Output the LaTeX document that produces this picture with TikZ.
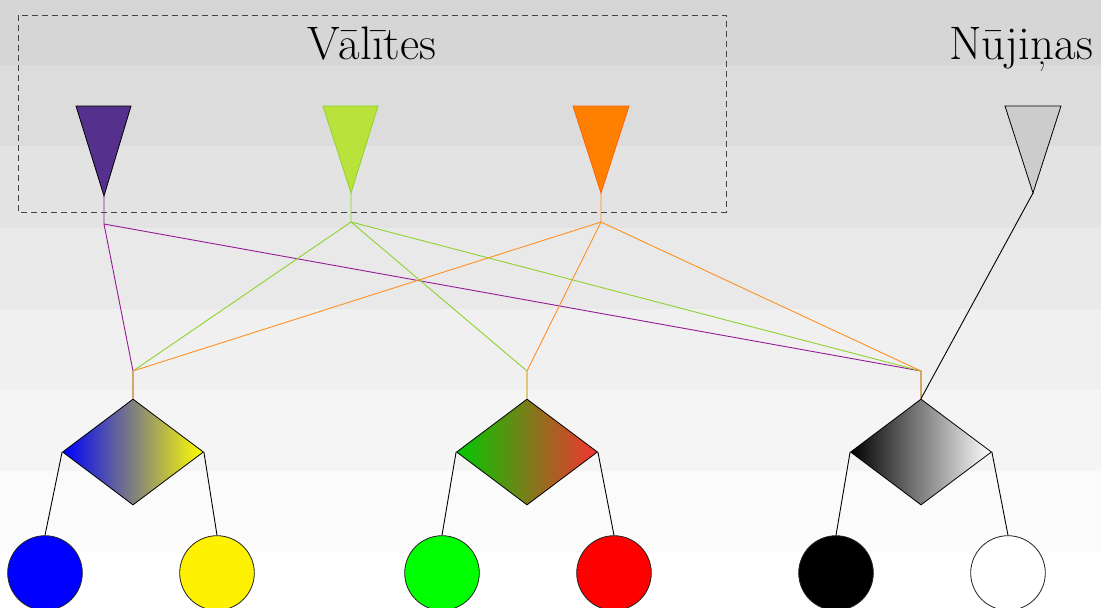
\documentclass[tikz,border=0pt]{standalone}
\usepackage{fontspec}
\usetikzlibrary{shapes.geometric}
\definecolor{bgA}{HTML}{D6D6D6}
\definecolor{bgB}{HTML}{DCDCDC}
\definecolor{bgC}{HTML}{E3E3E3}
\definecolor{bgD}{HTML}{E9E9E9}
\definecolor{bgE}{HTML}{F0F0F0}
\definecolor{bgF}{HTML}{F5F5F5}
\definecolor{bgG}{HTML}{FBFBFB}
\definecolor{purpleFill}{HTML}{55308D}
\definecolor{purpleLine}{HTML}{941C94}
\definecolor{limeFill}{HTML}{B9E33B}
\definecolor{limeLine}{HTML}{8FD12F}
\definecolor{orangeFill}{HTML}{FF8000}
\definecolor{orangeEdge}{HTML}{FF6000}
\definecolor{orangeLine}{HTML}{FF9020}
\definecolor{grayFill}{HTML}{CCCCCC}
\definecolor{dashCol}{HTML}{444444}
\definecolor{circEdge}{HTML}{222222}
\definecolor{dGreen}{RGB}{0,200,0}
\definecolor{dRed}{RGB}{245,50,50}
\tikzset{
  title/.style={anchor=base, font=\fontsize{47}{54}\selectfont, inner sep=0},
  conn/.style={line width=0.9pt},
  dia/.style={shape=diamond, draw=black, line width=0.8pt, inner sep=0,
              minimum width=141pt, minimum height=106pt, shading angle=0},
  ball/.style={shape=circle, draw=circEdge, line width=0.8pt, inner sep=0,
               minimum size=74.6pt},
  tri/.style={line width=0.8pt, line join=miter},
}
\begin{document}
\begin{tikzpicture}[x=1pt,y=-1pt]
\useasboundingbox (0,0) rectangle (1101,608);
\clip (0,0) rectangle (1101,608);
% background bands
\fill[bgA] (0,0) rectangle (1101,65);
\fill[bgB] (0,65) rectangle (1101,146);
\fill[bgC] (0,146) rectangle (1101,228);
\fill[bgD] (0,228) rectangle (1101,309);
\fill[bgE] (0,309) rectangle (1101,390);
\fill[bgF] (0,390) rectangle (1101,471);
\fill[bgG] (0,471) rectangle (1101,552);
\fill[white] (0,552) rectangle (1101,608);
% group box
\draw[dashCol, line width=0.9pt, dash pattern=on 6pt off 4pt] (18,15) rectangle (726,212);
\node[title] (tV) at (372,59) {Vālītes};
\node[title] (tN) at (1021,59) {Nūjiņas};
% triangle tips and junctions
\coordinate (pTip) at (104,196);
\coordinate (lTip) at (351,193);
\coordinate (oTip) at (601,193);
\coordinate (gTip) at (1033,193);
\coordinate (pJ) at (104,224);
\coordinate (lJ) at (351,222);
\coordinate (oJ) at (601,222);
\coordinate (jA) at (133,371);
\coordinate (jB) at (527,371);
\coordinate (jC) at (921,371);
% diamonds
\node[dia, left color=blue, right color=yellow] (dA) at (133,452) {};
\node[dia, left color=dGreen, right color=dRed] (dB) at (527,452) {};
\node[dia, left color=black, right color=white] (dC) at (921,452) {};
% circles
\node[ball, fill=blue] (c1) at (45,573) {};
\node[ball, fill=yellow] (c2) at (217,573) {};
\node[ball, fill=green] (c3) at (442,573) {};
\node[ball, fill=red] (c4) at (614,573) {};
\node[ball, fill=black] (c5) at (836,573) {};
\node[ball, fill=white] (c6) at (1008,573) {};
% purple connectors
\draw[conn, purpleLine] (pTip) -- (pJ) -- (jA) -- (dA.north);
\draw[conn, purpleLine] (pJ) -- (jC) -- (dC.north);
% lime connectors
\draw[conn, limeLine] (lTip) -- (lJ) -- (jA) -- (dA.north);
\draw[conn, limeLine] (lJ) -- (jB) -- (dB.north);
\draw[conn, limeLine] (lJ) -- (jC) -- (dC.north);
% orange connectors
\draw[conn, orangeLine] (oTip) -- (oJ) -- (jA) -- (dA.north);
\draw[conn, orangeLine] (oJ) -- (jB) -- (dB.north);
\draw[conn, orangeLine] (oJ) -- (jC) -- (dC.north);
% gray connector
\draw[conn, black] (gTip) -- (dC.north);
% triangles
\draw[tri, fill=purpleFill, draw=black] (76,106) -- (131,106) -- (pTip) -- cycle;
\draw[tri, fill=limeFill, draw=limeLine] (323,106) -- (378,106) -- (lTip) -- cycle;
\draw[tri, fill=orangeFill, draw=orangeEdge] (573,106) -- (629,106) -- (oTip) -- cycle;
\draw[tri, fill=grayFill, draw=black] (1005,106) -- (1061,106) -- (gTip) -- cycle;
% diamond to ball connectors
\draw[conn] (dA.west) -- (c1.north);
\draw[conn] (dA.east) -- (c2.north);
\draw[conn] (dB.west) -- (c3.north);
\draw[conn] (dB.east) -- (c4.north);
\draw[conn] (dC.west) -- (c5.north);
\draw[conn] (dC.east) -- (c6.north);
\end{tikzpicture}
\end{document}
